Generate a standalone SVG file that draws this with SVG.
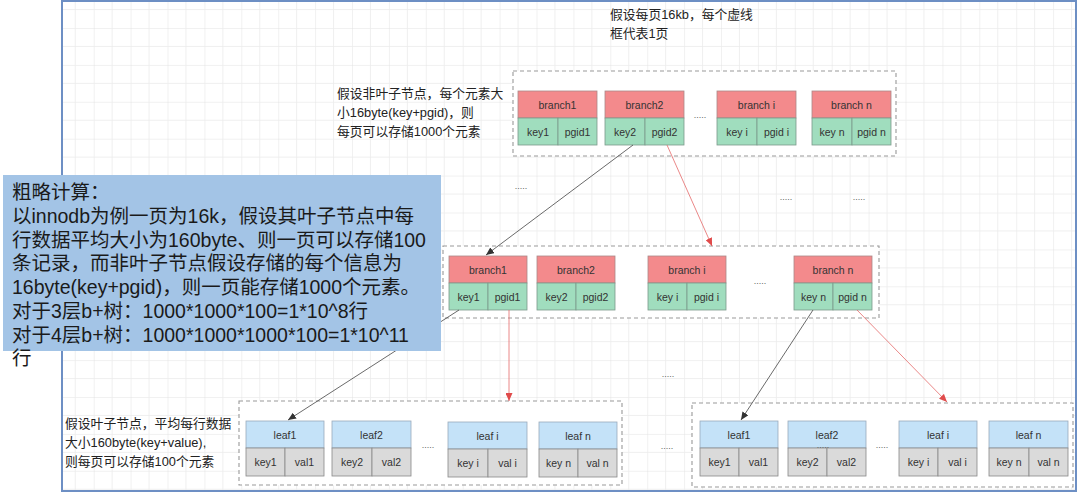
<svg xmlns="http://www.w3.org/2000/svg" width="1080" height="495" viewBox="0 0 1080 495">
<style>
.lbl{font-family:"Liberation Sans","Noto Sans",Arial,sans-serif;font-size:10.5px;fill:#333;text-anchor:middle}
.hdrR{fill:#F38A8C;stroke:#a88;stroke-width:0.8}
.cellG{fill:#A0DDBE;stroke:#7a9a8a;stroke-width:0.8}
.hdrB{fill:#C4E2F8;stroke:#9ab;stroke-width:0.8}
.cellY{fill:#DADADA;stroke:#888;stroke-width:0.8}
.page{fill:#fff;stroke:#999;stroke-width:1.1;stroke-dasharray:4 3}
.note{font-family:"Liberation Sans","Noto Sans CJK SC",sans-serif;font-size:12.8px;fill:#222}
.big{font-family:"Liberation Sans","Noto Sans CJK SC",sans-serif;font-size:19.5px;fill:#1a1a1a}
.dots{font-family:"Liberation Sans",sans-serif;font-size:9px;fill:#666;text-anchor:middle}
.cb{stroke:#444;stroke-width:0.8;fill:none}
.cr{stroke:#e46a6a;stroke-width:0.8;fill:none}
</style>
<defs>
<pattern id="grid" patternUnits="userSpaceOnUse" x="19.9" y="28" width="36.9" height="36.9">
<path d="M0,0 V36.9 M0,0 H36.9" stroke="#dcdcdc" stroke-width="0.8" fill="none"/>
<path d="M18.45,0 V36.9 M0,18.45 H36.9" stroke="#ebebeb" stroke-width="0.8" fill="none"/>
</pattern>
<marker id="ab" markerUnits="userSpaceOnUse" markerWidth="8" markerHeight="7" refX="8" refY="3.5" orient="auto"><path d="M0,0 L8,3.5 L0,7 z" fill="#333"/></marker>
<marker id="ar" markerUnits="userSpaceOnUse" markerWidth="8" markerHeight="7" refX="8" refY="3.5" orient="auto"><path d="M0,0 L8,3.5 L0,7 z" fill="#e04b4b"/></marker>
</defs>
<rect width="1080" height="495" fill="#fff"/>
<rect x="62" y="1" width="1014" height="490" fill="url(#grid)" stroke="#6d8fc4" stroke-width="2"/>

<g id="note-top"><text class="note" x="610" y="19">假设每页16kb，每个虚线</text><text class="note" x="610" y="38">框代表1页</text></g>
<g id="note-branch"><text class="note" x="337" y="98">假设非叶子节点，每个元素大</text><text class="note" x="337" y="117">小16byte(key+pgid)，则</text><text class="note" x="337" y="136">每页可以存储1000个元素</text></g>
<g id="note-leaf"><text class="note" x="65" y="428">假设叶子节点，平均每行数据</text><text class="note" x="65" y="447">大小160byte(key+value),</text><text class="note" x="65" y="466">则每页可以存储100个元素</text></g>

<g id="page-root"><rect class="page" x="513" y="71" width="383" height="85"/></g>
<g id="page-mid"><rect class="page" x="443" y="246" width="436" height="72"/></g>
<g id="page-leafL"><rect class="page" x="239" y="401" width="383" height="84"/></g>
<g id="page-leafR"><rect class="page" x="692" y="403" width="381" height="84"/></g>

<g id="r-b1" transform="translate(518,91)"><rect class="hdrR" width="79" height="27"/><rect class="cellG" y="27" width="40" height="27"/><rect class="cellG" x="40" y="27" width="39" height="27"/><text class="lbl" x="39.5" y="17.5">branch1</text><text class="lbl" x="20" y="44.5">key1</text><text class="lbl" x="59.5" y="44.5">pgid1</text></g>
<g id="r-b2" transform="translate(605,91)"><rect class="hdrR" width="79" height="27"/><rect class="cellG" y="27" width="40" height="27"/><rect class="cellG" x="40" y="27" width="39" height="27"/><text class="lbl" x="39.5" y="17.5">branch2</text><text class="lbl" x="20" y="44.5">key2</text><text class="lbl" x="59.5" y="44.5">pgid2</text></g>
<g id="r-bi" transform="translate(717,91)"><rect class="hdrR" width="79" height="27"/><rect class="cellG" y="27" width="40" height="27"/><rect class="cellG" x="40" y="27" width="39" height="27"/><text class="lbl" x="39.5" y="17.5">branch i</text><text class="lbl" x="20" y="44.5">key i</text><text class="lbl" x="59.5" y="44.5">pgid i</text></g>
<g id="r-bn" transform="translate(812,91)"><rect class="hdrR" width="79" height="27"/><rect class="cellG" y="27" width="40" height="27"/><rect class="cellG" x="40" y="27" width="39" height="27"/><text class="lbl" x="39.5" y="17.5">branch n</text><text class="lbl" x="20" y="44.5">key n</text><text class="lbl" x="59.5" y="44.5">pgid n</text></g>

<g id="m-b1" transform="translate(449,256)"><rect class="hdrR" width="78" height="27"/><rect class="cellG" y="27" width="39" height="27"/><rect class="cellG" x="39" y="27" width="39" height="27"/><text class="lbl" x="39" y="17.5">branch1</text><text class="lbl" x="19.5" y="44.5">key1</text><text class="lbl" x="58.5" y="44.5">pgid1</text></g>
<g id="m-b2" transform="translate(537,256)"><rect class="hdrR" width="78" height="27"/><rect class="cellG" y="27" width="39" height="27"/><rect class="cellG" x="39" y="27" width="39" height="27"/><text class="lbl" x="39" y="17.5">branch2</text><text class="lbl" x="19.5" y="44.5">key2</text><text class="lbl" x="58.5" y="44.5">pgid2</text></g>
<g id="m-bi" transform="translate(648,256)"><rect class="hdrR" width="78" height="27"/><rect class="cellG" y="27" width="39" height="27"/><rect class="cellG" x="39" y="27" width="39" height="27"/><text class="lbl" x="39" y="17.5">branch i</text><text class="lbl" x="19.5" y="44.5">key i</text><text class="lbl" x="58.5" y="44.5">pgid i</text></g>
<g id="m-bn" transform="translate(794,256)"><rect class="hdrR" width="78" height="27"/><rect class="cellG" y="27" width="39" height="27"/><rect class="cellG" x="39" y="27" width="39" height="27"/><text class="lbl" x="39" y="17.5">branch n</text><text class="lbl" x="19.5" y="44.5">key n</text><text class="lbl" x="58.5" y="44.5">pgid n</text></g>

<g id="l-1" transform="translate(246,421)"><rect class="hdrB" width="78" height="27"/><rect class="cellY" y="27" width="39" height="28"/><rect class="cellY" x="39" y="27" width="39" height="28"/><text class="lbl" x="39" y="17.5">leaf1</text><text class="lbl" x="19.5" y="45">key1</text><text class="lbl" x="58.5" y="45">val1</text></g>
<g id="l-2" transform="translate(332,421)"><rect class="hdrB" width="79" height="27"/><rect class="cellY" y="27" width="40" height="28"/><rect class="cellY" x="40" y="27" width="39" height="28"/><text class="lbl" x="39.5" y="17.5">leaf2</text><text class="lbl" x="20" y="45">key2</text><text class="lbl" x="59.5" y="45">val2</text></g>
<g id="l-i" transform="translate(448,422)"><rect class="hdrB" width="79" height="27"/><rect class="cellY" y="27" width="40" height="28"/><rect class="cellY" x="40" y="27" width="39" height="28"/><text class="lbl" x="39.5" y="17.5">leaf i</text><text class="lbl" x="20" y="45">key i</text><text class="lbl" x="59.5" y="45">val i</text></g>
<g id="l-n" transform="translate(539,422)"><rect class="hdrB" width="78" height="27"/><rect class="cellY" y="27" width="39" height="28"/><rect class="cellY" x="39" y="27" width="39" height="28"/><text class="lbl" x="39" y="17.5">leaf n</text><text class="lbl" x="19.5" y="45">key n</text><text class="lbl" x="58.5" y="45">val n</text></g>

<g id="r2-1" transform="translate(700,421)"><rect class="hdrB" width="78" height="27"/><rect class="cellY" y="27" width="39" height="28"/><rect class="cellY" x="39" y="27" width="39" height="28"/><text class="lbl" x="39" y="17.5">leaf1</text><text class="lbl" x="19.5" y="45">key1</text><text class="lbl" x="58.5" y="45">val1</text></g>
<g id="r2-2" transform="translate(788,421)"><rect class="hdrB" width="78" height="27"/><rect class="cellY" y="27" width="39" height="28"/><rect class="cellY" x="39" y="27" width="39" height="28"/><text class="lbl" x="39" y="17.5">leaf2</text><text class="lbl" x="19.5" y="45">key2</text><text class="lbl" x="58.5" y="45">val2</text></g>
<g id="r2-i" transform="translate(899,421)"><rect class="hdrB" width="78" height="27"/><rect class="cellY" y="27" width="39" height="28"/><rect class="cellY" x="39" y="27" width="39" height="28"/><text class="lbl" x="39" y="17.5">leaf i</text><text class="lbl" x="19.5" y="45">key i</text><text class="lbl" x="58.5" y="45">val i</text></g>
<g id="r2-n" transform="translate(989,421)"><rect class="hdrB" width="79" height="27"/><rect class="cellY" y="27" width="40" height="28"/><rect class="cellY" x="40" y="27" width="39" height="28"/><text class="lbl" x="39.5" y="17.5">leaf n</text><text class="lbl" x="20" y="45">key n</text><text class="lbl" x="59.5" y="45">val n</text></g>

<g id="ellipses">
<text class="dots" x="700" y="118">.....</text>
<text class="dots" x="521" y="189">.....</text>
<text class="dots" x="786" y="200">.....</text>
<text class="dots" x="859" y="200">.....</text>
<text class="dots" x="760" y="284">.....</text>
<text class="dots" x="668" y="377">.....</text>
<text class="dots" x="667" y="449">.....</text>
<text class="dots" x="428" y="448">.....</text>
<text class="dots" x="823" y="448">.....</text>
<text class="dots" x="882" y="448">.....</text>
</g>

<g id="connectors">
<line class="cb" x1="633" y1="145" x2="486" y2="255" marker-end="url(#ab)"/>
<line class="cr" x1="667" y1="145" x2="712" y2="246" marker-end="url(#ar)"/>
<line class="cb" x1="459" y1="310" x2="288" y2="420" marker-end="url(#ab)"/>
<line class="cr" x1="509" y1="310" x2="509" y2="401" marker-end="url(#ar)"/>
<line class="cb" x1="813" y1="310" x2="741" y2="420" marker-end="url(#ab)"/>
<line class="cr" x1="857" y1="310" x2="947" y2="402" marker-end="url(#ar)"/>
</g>

<g id="calc-box">
<rect x="3" y="175" width="438" height="176" fill="#A3C4E6"/>
<text class="big" x="12" y="199">粗略计算：</text>
<text class="big" x="12" y="223">以innodb为例一页为16k，假设其叶子节点中每</text>
<text class="big" x="12" y="247">行数据平均大小为160byte、则一页可以存储100</text>
<text class="big" x="12" y="270">条记录，而非叶子节点假设存储的每个信息为</text>
<text class="big" x="12" y="294">16byte(key+pgid)，则一页能存储1000个元素。</text>
<text class="big" x="12" y="318">对于3层b+树：1000*1000*100=1*10^8行</text>
<text class="big" x="12" y="342">对于4层b+树：1000*1000*1000*100=1*10^11</text>
<text class="big" x="12" y="365">行</text>
</g>
</svg>
